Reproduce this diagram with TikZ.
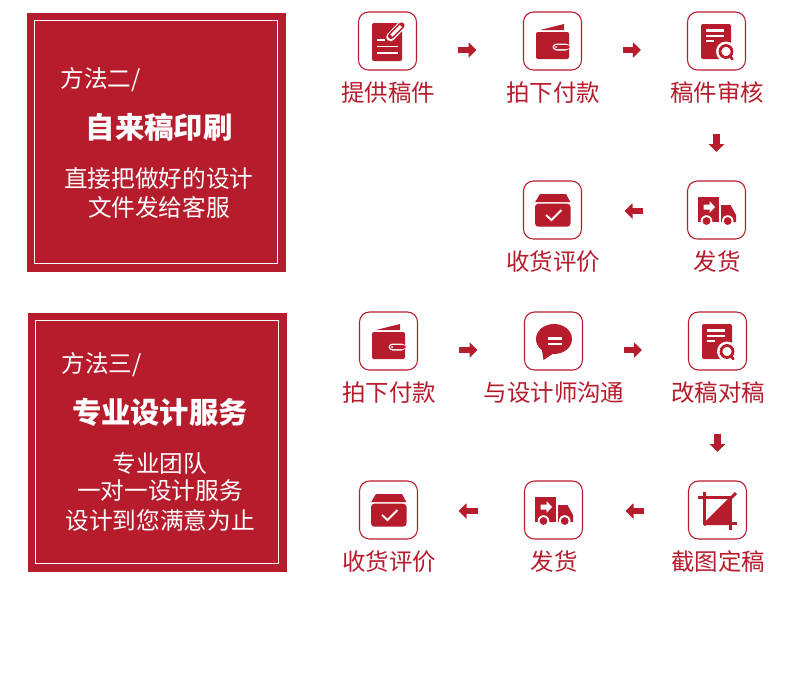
\documentclass[tikz,border=0pt]{standalone}
\usepackage{fontspec}
\setmainfont{Noto Sans CJK SC}
\usetikzlibrary{arrows.meta}
\definecolor{brandred}{HTML}{B71C2C}
\tikzset{
  panel/.style={fill=brandred,draw=none,minimum width=194.25pt,minimum height=194.25pt,inner sep=0,outer sep=0},
  panelframe/.style={draw=white,line width=0.75pt,fill=none,minimum width=182.25pt,minimum height=182.25pt,inner sep=0,outer sep=0},
  iconbox/.style={draw=brandred,line width=0.8pt,fill=white,rounded corners=7.5pt,minimum width=43.5pt,minimum height=43.5pt,inner sep=0,outer sep=0},
  steplabel/.style={text=brandred,font=\fontsize{17.6pt}{20pt}\selectfont,inner sep=0},
  paneltext/.style={text=white,font=\fontsize{17.75pt}{20pt}\selectfont,inner sep=0},
  paneltitle/.style={text=white,font=\fontsize{22pt}{26pt}\selectfont\bfseries,inner sep=0},
  flow/.style={draw=brandred,line width=4.9pt,-{Triangle[length=6pt,width=11.25pt]}},
  whiteline/.style={draw=white,line width=1.5pt},
}
% icons: local pixel coordinates about the box centre
\newcommand{\icondoc}[1]{\begin{scope}[shift={(#1)}]
  \fill[brandred,rounded corners=1.5pt] (-15.5,-18) rectangle (14.5,20);
  \draw[whiteline] (-10.5,-1) -- (-2.5,-1);
  \draw[whiteline,line width=1.3pt] (-10.5,5.5) -- (10.5,5.5) (-10.5,12) -- (10.5,12);
  \draw[white,line width=6.4pt,line cap=round] (3,-4) -- (13.5,-15);
  \draw[brandred,line width=4.6pt,line cap=round] (3.5,-5) -- (14,-15.5);
  \draw[white,line width=2.2pt,line cap=butt] (4,-5.5) -- (13.5,-15);
\end{scope}}
\newcommand{\iconwallet}[1]{\begin{scope}[shift={(#1)}]
  \fill[brandred] (-12.5,-11) -- (11.5,-17) -- (11.5,-11) -- cycle;
  \fill[brandred,rounded corners=1.5pt] (-16.5,-9) rectangle (16.5,18);
  \fill[white,rounded corners=3pt] (0,2.5) rectangle (17,9.5);
  \fill[brandred,rounded corners=2pt] (1.3,4) rectangle (17,8);
  \fill[white] (3.6,6) circle (1);
\end{scope}}
\newcommand{\iconreport}[1]{\begin{scope}[shift={(#1)}]
  \fill[brandred,rounded corners=1.5pt] (-15.5,-17) rectangle (14.5,18);
  \draw[whiteline,line width=1.7pt] (-10.5,-10.5) -- (7.5,-10.5) (-10.5,-5) -- (7.5,-5) (-10.5,0) -- (-3,0);
  \fill[white] (9.5,10.5) circle (10);
  \draw[brandred,line width=2.1pt] (9.5,10.5) circle (6);
  \draw[brandred,line width=2pt,line cap=round] (13.5,15) -- (15.8,18);
\end{scope}}
\newcommand{\icontruck}[1]{\begin{scope}[shift={(#1)}]
  \fill[brandred] (-18.5,-13) rectangle (2.5,12);
  \fill[brandred] (4.5,-5) -- (14,-5) -- (19.5,5) -- (19.5,12) -- (4.5,12) -- cycle;
  \fill[white] (-13,-5.5) -- (-7,-5.5) -- (-7,-9) -- (-1.5,-3) -- (-7,3) -- (-7,-0.5) -- (-13,-0.5) -- cycle;
  \fill[white] (-10,11) circle (5.8) (11.2,11) circle (5.8);
  \fill[brandred] (-10,11) circle (3.9) (11.2,11) circle (3.9);
\end{scope}}
\newcommand{\iconcarton}[1]{\begin{scope}[shift={(#1)}]
  \fill[brandred] (-12.5,-16) -- (13.5,-16) -- (18,-7.8) -- (-17.5,-7.8) -- cycle;
  \fill[brandred,rounded corners=2.5pt] (-17.5,-6.3) rectangle (18,16.7);
  \draw[white,line width=1.4pt] (-6.5,5) -- (-1,10) -- (9,0);
\end{scope}}
\newcommand{\iconbubble}[1]{\begin{scope}[shift={(#1)}]
  \fill[brandred] (0.5,-2) ellipse (18 and 15);
  \fill[brandred] (-12,6) -- (-10,19) -- (2,11) -- cycle;
  \draw[whiteline,line width=1.6pt] (-5.5,-2.5) -- (8.5,-2.5) (-5.5,3) -- (8.5,3);
\end{scope}}
\newcommand{\iconcrop}[1]{\begin{scope}[shift={(#1)}]
  \fill[brandred] (-13.5,15) -- (13.5,-12) -- (13.5,15) -- cycle;
  \draw[brandred,line width=2.2pt] (-19.5,-12.5) -- (13.5,-12.5) (-13.2,-18.5) -- (-13.2,15) (-13.2,13.5) -- (19.5,13.5) (13.2,-12) -- (13.2,19.5);
  \draw[brandred,line width=2.2pt] (-13.5,15) -- (18.5,-17);
\end{scope}}
\begin{document}
\begin{tikzpicture}[x=0.75pt,y=-0.75pt]
\useasboundingbox (0,0) rectangle (790,687);
\fill[white] (0,0) rectangle (790,687);

% ---------- panel 2
\node[panel] (panelA) at (156.5,142.5) {};
\node[panelframe] (frameA) at (156,142) {};
\node[paneltext] (a0) at (100.5,80) {方法二/};
\node[paneltitle] (a1) at (159,127.5) {自来稿印刷};
\node[paneltext] (a2) at (159,178) {直接把做好的设计};
\node[paneltext] (a3) at (159,207) {文件发给客服};

% boxes
\node[iconbox] (s1) at (387.5,41) {};
\node[iconbox] (s2) at (552.5,41) {};
\node[iconbox] (s3) at (716.5,41) {};
\node[iconbox] (s4) at (716.5,210) {};
\node[iconbox] (s5) at (552.5,210) {};
\icondoc{s1.center}
\iconwallet{s2.center}
\iconreport{s3.center}
\icontruck{s4.center}
\iconcarton{s5.center}
\node[steplabel] (l1) at (388,93) {提供稿件};
\node[steplabel] (l2) at (553,93) {拍下付款};
\node[steplabel] (l3) at (717,93) {稿件审核};
\node[steplabel] (l4) at (717,262) {发货};
\node[steplabel] (l5) at (553,262) {收货评价};
\draw[flow,shorten <=30.75pt,shorten >=35.25pt] ([yshift=-6.75pt]s1.east) -- ([yshift=-6.75pt]s2.west);
\draw[flow,shorten <=31.1pt,shorten >=34.9pt] ([yshift=-6.75pt]s2.east) -- ([yshift=-6.75pt]s3.west);
\draw[flow,shorten <=48pt,shorten >=21.75pt] (s3.south) -- (s4.north);
\draw[flow,shorten <=33.75pt,shorten >=32.25pt] ([yshift=-0.75pt]s4.west) -- ([yshift=-0.75pt]s5.east);

% ---------- panel 3
\node[panel] (panelB) at (157.5,442.5) {};
\node[panelframe] (frameB) at (157,442) {};
\node[paneltext] (b0) at (101.5,365) {方法三/};
\node[paneltitle] (b1) at (160,412.5) {专业设计服务};
\node[paneltext] (b2) at (160,463) {专业团队};
\node[paneltext] (b3) at (160,491) {一对一设计服务};
\node[paneltext] (b4) at (160,520) {设计到您满意为止};

\node[iconbox] (t1) at (388.5,341) {};
\node[iconbox] (t2) at (553.5,341) {};
\node[iconbox] (t3) at (717.5,341) {};
\node[iconbox] (t4) at (717.5,510) {};
\node[iconbox] (t5) at (553.5,510) {};
\node[iconbox] (t6) at (388.5,510) {};
\iconwallet{t1.center}
\iconbubble{t2.center}
\iconreport{t3.center}
\iconcrop{t4.center}
\icontruck{t5.center}
\iconcarton{t6.center}
\node[steplabel] (m1) at (389,393) {拍下付款};
\node[steplabel] (m2) at (554,393) {与设计师沟通};
\node[steplabel] (m3) at (718,393) {改稿对稿};
\node[steplabel] (m4) at (718,562) {截图定稿};
\node[steplabel] (m5) at (554,562) {发货};
\node[steplabel] (m6) at (389,562) {收货评价};
\draw[flow,shorten <=30.75pt,shorten >=35.25pt] ([yshift=-6.75pt]t1.east) -- ([yshift=-6.75pt]t2.west);
\draw[flow,shorten <=31.1pt,shorten >=34.9pt] ([yshift=-6.75pt]t2.east) -- ([yshift=-6.75pt]t3.west);
\draw[flow,shorten <=48pt,shorten >=21.75pt] (t3.south) -- (t4.north);
\draw[flow,shorten <=33.75pt,shorten >=32.25pt] ([yshift=-0.75pt]t4.west) -- ([yshift=-0.75pt]t5.east);
\draw[flow,shorten <=35.25pt,shorten >=30.75pt] ([yshift=-0.75pt]t5.west) -- ([yshift=-0.75pt]t6.east);
\end{tikzpicture}
\end{document}
